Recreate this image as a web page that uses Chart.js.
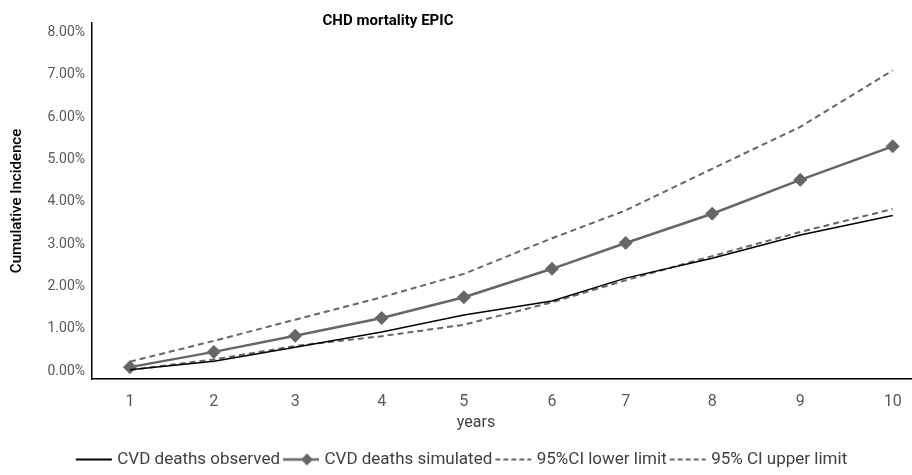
<!DOCTYPE html>
<html>
<head>
<meta charset="utf-8">
<script src="https://cdn.jsdelivr.net/npm/chart.js@4"></script>
<style>
  html, body { margin: 0; padding: 0; background: #fff; }
  #wrap { position: relative; width: 912px; height: 475px; overflow: hidden; }
  .label { position: absolute; text-align: center; font-family: Roboto, sans-serif; }
  #chartTitle { left: 0; width: 776px; top: 11px; font-weight: bold; font-size: 15px; color: #000; }
  #xTitle { left: 376px; width: 200px; top: 412px; line-height: 20px; font-size: 16px; color: #404040; }
</style>
</head>
<body>
<div id="wrap">
  <canvas id="cvdChart" width="912" height="475"></canvas>
  <div id="chartTitle" class="label">CHD mortality EPIC</div>
  <div id="xTitle" class="label">years</div>
</div>
<script>
// tick labels on the x axis and the follow-up time they sit at
const yearLabels = ['1', '2', '3', '4', '5', '6', '7', '8', '9', '10'];
const followUp = [1, 1.99, 2.95, 3.97, 4.94, 5.98, 6.85, 7.87, 8.91, 10];

// cumulative incidence, in %
const observed = [0.04, 0.24, 0.57, 0.93, 1.33, 1.66, 2.20, 2.67, 3.22, 3.68];
const simulated = [0.10, 0.46, 0.84, 1.26, 1.75, 2.42, 3.03, 3.72, 4.52, 5.31];
const lowerCI = [0.03, 0.28, 0.60, 0.83, 1.10, 1.63, 2.15, 2.72, 3.29, 3.83];
const upperCI = [0.23, 0.72, 1.22, 1.75, 2.30, 3.14, 3.80, 4.78, 5.77, 7.10];

const yTicks = [0, 1, 2, 3, 4, 5, 6, 7, 8];

const GREY = '#666666';

function points(values) {
    return values.map((v, i) => ({ x: followUp[i], y: v / 100 }));
}

// little pictures for the legend: line, line with diamond, dashed line
function makeSample(color, width, dash, diamond) {
    const c = document.createElement('canvas');
    c.width = 40;
    c.height = 16;
    const g = c.getContext('2d');
    g.strokeStyle = color;
    g.lineWidth = width;
    g.setLineDash(dash);
    g.beginPath();
    g.moveTo(2, 8);
    g.lineTo(38, 8);
    g.stroke();
    if (diamond) {
        g.setLineDash([]);
        g.fillStyle = color;
        g.beginPath();
        g.moveTo(26, 2);
        g.lineTo(32, 8);
        g.lineTo(26, 14);
        g.lineTo(20, 8);
        g.closePath();
        g.fill();
    }
    return c;
}

const ctx = document.getElementById('cvdChart');

new Chart(ctx, {
    type: 'line',
    data: {
        datasets: [{
            label: 'CVD deaths observed',
            data: points(observed),
            borderColor: '#000000',
            borderWidth: 1.5,
            pointRadius: 0,
            sample: makeSample('#000000', 2, [], false)
        }, {
            label: 'CVD deaths simulated',
            data: points(simulated),
            borderColor: GREY,
            backgroundColor: GREY,
            borderWidth: 2.5,
            pointStyle: 'rectRot',
            pointRadius: 6.5,
            pointBorderWidth: 1,
            pointBackgroundColor: GREY,
            pointBorderColor: GREY,
            sample: makeSample(GREY, 2.5, [], true)
        }, {
            label: '95%CI lower limit',
            data: points(lowerCI),
            borderColor: GREY,
            borderWidth: 2,
            borderDash: [6, 4],
            pointRadius: 0,
            sample: makeSample(GREY, 2, [5, 3], false)
        }, {
            label: '95% CI upper limit',
            data: points(upperCI),
            borderColor: GREY,
            borderWidth: 2,
            borderDash: [6, 4],
            pointRadius: 0,
            sample: makeSample(GREY, 2, [5, 3], false)
        }]
    },
    options: {
        responsive: false,
        animation: false,
        layout: { autoPadding: false, padding: { top: 23, left: 14, right: 0, bottom: -3 } },
        elements: { line: { tension: 0 } },
        scales: {
            x: {
                type: 'linear',
                min: 0.552,
                max: 10.228,
                grid: { display: false, drawTicks: true, tickLength: 13 },
                border: { display: true, color: '#000000', width: 1.5 },
                afterBuildTicks: (axis) => {
                    axis.ticks = followUp.map(v => ({ value: v }));
                },
                ticks: {
                    padding: 0,
                    color: '#595959',
                    font: { family: 'Roboto', size: 16 },
                    callback: (value, index) => yearLabels[index]
                },
                afterFit: (axis) => { axis.height = 66; }
            },
            y: {
                min: -0.0018,
                max: 0.0822,
                grid: { display: false, drawTicks: true, tickLength: 7 },
                border: { display: true, color: '#000000', width: 1.5 },
                afterBuildTicks: (axis) => {
                    axis.ticks = yTicks.map(v => ({ value: v / 100 }));
                },
                ticks: {
                    padding: 0,
                    color: '#595959',
                    font: { family: 'Roboto', size: 14 },
                    callback: (value) => (value * 100).toFixed(2) + '%'
                },
                title: {
                    display: true,
                    text: 'Cumulative Incidence',
                    color: '#000000',
                    font: { family: 'Roboto', size: 15, weight: '500' },
                    padding: { top: -6, bottom: 0 }
                },
                afterFit: (axis) => { axis.width = 78; }
            }
        },
        plugins: {
            title: { display: false },
            tooltip: { enabled: false },
            legend: {
                position: 'bottom',
                labels: {
                    usePointStyle: true,
                    pointStyleWidth: 30,
                    padding: 6,
                    color: '#404040',
                    font: { family: 'Roboto', size: 17 },
                    generateLabels: (chart) => chart.data.datasets.map((ds, i) => ({
                        text: ds.label,
                        pointStyle: ds.sample,
                        fontColor: '#404040',
                        hidden: false,
                        lineWidth: 0,
                        datasetIndex: i
                    }))
                }
            }
        }
    }
});
</script>
</body>
</html>
